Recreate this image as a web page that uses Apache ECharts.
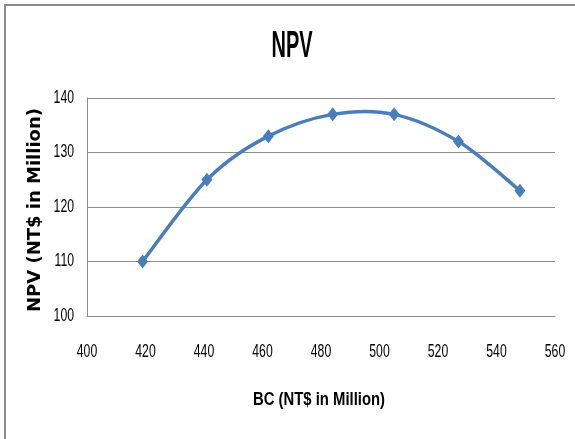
<!DOCTYPE html>
<html>
<head>
<meta charset="utf-8">
<script src="https://cdn.jsdelivr.net/npm/echarts@6/dist/echarts.min.js"></script>
<style>
  html, body { margin: 0; padding: 0; background: #fff; }
  #chart { width: 575px; height: 439px; }
</style>
</head>
<body>
<div id="chart"></div>
<script>
// BC (NT$ in Million) and the resulting NPV (NT$ in Million)
const bcValues = [419, 441, 462, 484, 505, 527, 548];
const npvValues = [110, 125, 133, 137, 137, 132, 123];
const xTicks = [400, 420, 440, 460, 480, 500, 520, 540, 560];
const yTicks = [100, 110, 120, 130, 140];

const points = bcValues.map((bc, i) => [bc, npvValues[i]]);
const sansFont = '"Liberation Sans", Arial, sans-serif';
const lineColor = '#4a7ebb';
const gridColor = '#8c8c8c';

// Smooth curve through the points (cardinal spline drawn as cubic Bezier pieces)
function renderCurve(params, api) {
  const pts = points.map(p => api.coord(p));
  const children = [];
  for (let i = 0; i < pts.length - 1; i++) {
    const p0 = pts[Math.max(i - 1, 0)];
    const p1 = pts[i];
    const p2 = pts[i + 1];
    const p3 = pts[Math.min(i + 2, pts.length - 1)];
    children.push({
      type: 'bezierCurve',
      shape: {
        x1: p1[0], y1: p1[1],
        cpx1: p1[0] + (p2[0] - p0[0]) / 6, cpy1: p1[1] + (p2[1] - p0[1]) / 6,
        cpx2: p2[0] - (p3[0] - p1[0]) / 6, cpy2: p2[1] - (p3[1] - p1[1]) / 6,
        x2: p2[0], y2: p2[1]
      },
      style: { stroke: lineColor, lineWidth: 3.5, fill: null, lineCap: 'round' }
    });
  }
  return { type: 'group', children };
}

// Condensed text: a regular face squeezed horizontally
function condensedText(text, x, y, size, weight, squeeze, align) {
  return {
    type: 'text',
    x: x, y: y,
    scaleX: squeeze,
    silent: true,
    style: {
      text: text,
      font: weight + ' ' + size + 'px ' + sansFont,
      fill: '#000',
      align: align,
      verticalAlign: 'middle'
    }
  };
}

const chart = echarts.init(document.getElementById('chart'), null, { renderer: 'canvas' });
chart.setOption({
  animation: false,
  backgroundColor: '#ffffff',
  grid: { left: 87, right: 20, top: 98, bottom: 123 },
  xAxis: {
    type: 'value',
    min: xTicks[0],
    max: xTicks[xTicks.length - 1],
    interval: 20,
    axisLine: { show: true, lineStyle: { color: gridColor, width: 1 } },
    axisTick: { show: false },
    splitLine: { show: false },
    axisLabel: { show: false }
  },
  yAxis: {
    type: 'value',
    min: yTicks[0],
    max: yTicks[yTicks.length - 1],
    interval: 10,
    axisLine: { show: true, lineStyle: { color: gridColor, width: 1 } },
    axisTick: { show: false },
    splitLine: { show: true, lineStyle: { color: gridColor, width: 1 } },
    axisLabel: { show: false }
  },
  series: [
    {
      type: 'custom',
      data: [0],
      renderItem: renderCurve,
      silent: true,
      z: 2
    },
    {
      type: 'line',
      data: points,
      symbol: 'diamond',
      symbolSize: [11, 14],
      lineStyle: { width: 0, opacity: 0 },
      itemStyle: { color: lineColor },
      z: 3
    }
  ]
});

// Tick labels, titles and the frame, placed with the axes' own scales
const texts = [];
xTicks.forEach(v => {
  const p = chart.convertToPixel({ gridIndex: 0 }, [v, yTicks[0]]);
  texts.push(condensedText(String(v), p[0], p[1] + 36, 18, 'normal', 0.68, 'center'));
});
yTicks.forEach(v => {
  const p = chart.convertToPixel({ gridIndex: 0 }, [xTicks[0], v]);
  texts.push(condensedText(String(v), p[0] - 13, p[1], 18, 'normal', 0.68, 'right'));
});
const plotLeft = chart.convertToPixel({ gridIndex: 0 }, [xTicks[0], yTicks[0]]);
const plotRight = chart.convertToPixel({ gridIndex: 0 }, [xTicks[xTicks.length - 1], yTicks[yTicks.length - 1]]);
texts.push(condensedText('NPV', 292, 47, 36, 'bold', 0.555, 'center'));
texts.push(condensedText('BC (NT$ in Million)', (plotLeft[0] + plotRight[0]) / 2 - 2, 400, 18, 'bold', 0.825, 'center'));
texts.push({
  type: 'text',
  x: 35, y: 210,
  rotation: Math.PI / 2,
  silent: true,
  style: {
    text: 'NPV (NT$ in Million)',
    font: 'bold 18px "DejaVu Sans", sans-serif',
    fill: '#000',
    align: 'center',
    verticalAlign: 'middle'
  }
});

chart.setOption({
  graphic: [
    { type: 'line', silent: true, shape: { x1: 5, y1: 4, x2: 5, y2: 439 }, style: { stroke: gridColor, lineWidth: 2 } },
    { type: 'line', silent: true, shape: { x1: 4, y1: 5, x2: 575, y2: 5 }, style: { stroke: gridColor, lineWidth: 2 } }
  ].concat(texts)
});
</script>
</body>
</html>
